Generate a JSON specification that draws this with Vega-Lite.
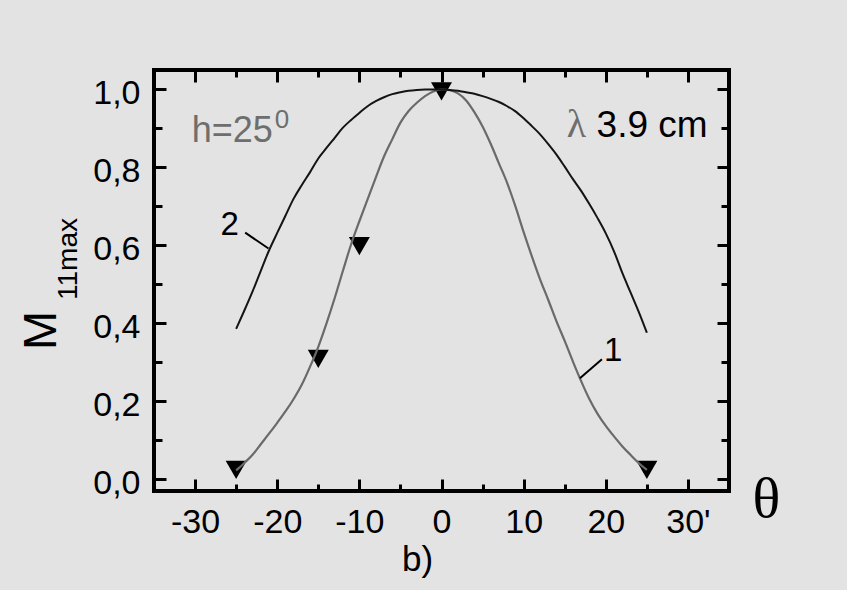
{
  "$schema": "https://vega.github.io/schema/vega-lite/v6.json",
  "width": 575,
  "height": 421,
  "autosize": "none",
  "padding": {"left": 154, "top": 70, "right": 118, "bottom": 99},
  "background": "#e3e3e3",
  "config": {
    "view": {"stroke": "#000000", "strokeWidth": 4},
    "axis": {
      "domain": false,
      "grid": false,
      "tickColor": "#000000",
      "tickWidth": 3,
      "labelFont": "Liberation Sans",
      "labelFontSize": 34,
      "labelColor": "#000000",
      "titleColor": "#000000",
      "titleFontWeight": "normal"
    },
    "text": {"font": "Liberation Sans"}
  },
  "title": {
    "text": "b)",
    "orient": "bottom",
    "font": "Liberation Sans",
    "fontSize": 35,
    "fontWeight": "normal",
    "color": "#000000",
    "anchor": "middle",
    "dx": -24
  },
  "datasets": {
    "curve1": [
      {"theta": -25, "m": 0.023}, {"theta": -24, "m": 0.042}, {"theta": -23, "m": 0.063},
      {"theta": -22, "m": 0.09}, {"theta": -21, "m": 0.117}, {"theta": -20, "m": 0.145},
      {"theta": -19, "m": 0.174}, {"theta": -18, "m": 0.206}, {"theta": -17, "m": 0.243},
      {"theta": -16, "m": 0.289}, {"theta": -15, "m": 0.34}, {"theta": -14, "m": 0.4},
      {"theta": -13, "m": 0.465}, {"theta": -12, "m": 0.535}, {"theta": -11, "m": 0.603},
      {"theta": -10, "m": 0.662}, {"theta": -9, "m": 0.718}, {"theta": -8, "m": 0.774},
      {"theta": -7, "m": 0.828}, {"theta": -6, "m": 0.872}, {"theta": -5, "m": 0.915},
      {"theta": -4, "m": 0.945}, {"theta": -3, "m": 0.966}, {"theta": -2, "m": 0.983},
      {"theta": -1, "m": 0.995}, {"theta": 0, "m": 1.0}, {"theta": 1, "m": 0.998},
      {"theta": 2, "m": 0.99}, {"theta": 3, "m": 0.972}, {"theta": 4, "m": 0.942},
      {"theta": 5, "m": 0.905}, {"theta": 6, "m": 0.86}, {"theta": 7, "m": 0.81},
      {"theta": 8, "m": 0.76}, {"theta": 9, "m": 0.7}, {"theta": 10, "m": 0.634},
      {"theta": 11, "m": 0.572}, {"theta": 12, "m": 0.513}, {"theta": 13, "m": 0.46},
      {"theta": 14, "m": 0.405}, {"theta": 15, "m": 0.355}, {"theta": 16, "m": 0.302},
      {"theta": 17, "m": 0.252}, {"theta": 18, "m": 0.206}, {"theta": 19, "m": 0.168},
      {"theta": 20, "m": 0.137}, {"theta": 21, "m": 0.11}, {"theta": 22, "m": 0.085},
      {"theta": 23, "m": 0.063}, {"theta": 24, "m": 0.042}, {"theta": 25, "m": 0.024}
    ],
    "curve2": [
      {"theta": -25, "m": 0.386}, {"theta": -24, "m": 0.433}, {"theta": -23, "m": 0.482},
      {"theta": -22, "m": 0.535}, {"theta": -21, "m": 0.587}, {"theta": -20, "m": 0.632},
      {"theta": -19, "m": 0.676}, {"theta": -18, "m": 0.72}, {"theta": -17, "m": 0.755},
      {"theta": -16, "m": 0.788}, {"theta": -15, "m": 0.823}, {"theta": -14, "m": 0.85},
      {"theta": -13, "m": 0.876}, {"theta": -12, "m": 0.902}, {"theta": -11, "m": 0.922},
      {"theta": -10, "m": 0.94}, {"theta": -9, "m": 0.957}, {"theta": -8, "m": 0.97},
      {"theta": -7, "m": 0.98}, {"theta": -6, "m": 0.988}, {"theta": -5, "m": 0.993},
      {"theta": -4, "m": 0.997}, {"theta": -3, "m": 0.999}, {"theta": -2, "m": 1.0},
      {"theta": -1, "m": 1.0}, {"theta": 0, "m": 1.0}, {"theta": 1, "m": 0.999},
      {"theta": 2, "m": 0.997}, {"theta": 3, "m": 0.993}, {"theta": 4, "m": 0.989},
      {"theta": 5, "m": 0.983}, {"theta": 6, "m": 0.976}, {"theta": 7, "m": 0.968},
      {"theta": 8, "m": 0.957}, {"theta": 9, "m": 0.944}, {"theta": 10, "m": 0.926},
      {"theta": 11, "m": 0.906}, {"theta": 12, "m": 0.885}, {"theta": 13, "m": 0.86},
      {"theta": 14, "m": 0.833}, {"theta": 15, "m": 0.802}, {"theta": 16, "m": 0.77},
      {"theta": 17, "m": 0.74}, {"theta": 18, "m": 0.706}, {"theta": 19, "m": 0.67},
      {"theta": 20, "m": 0.631}, {"theta": 21, "m": 0.585}, {"theta": 22, "m": 0.53},
      {"theta": 23, "m": 0.48}, {"theta": 24, "m": 0.43}, {"theta": 25, "m": 0.376}
    ],
    "measured": [
      {"theta": -25, "m": 0.024}, {"theta": -15, "m": 0.309}, {"theta": -10, "m": 0.598},
      {"theta": 0, "m": 0.995}, {"theta": 25, "m": 0.024}
    ],
    "leaders": [
      {"curve": "2", "x1": -23.9, "y1": 0.633, "x2": -21.06, "y2": 0.592},
      {"curve": "1", "x1": 19.53, "y1": 0.308, "x2": 16.85, "y2": 0.259}
    ],
    "curveLabels": [
      {"text": "2", "theta": -25.8, "m": 0.627},
      {"text": "1", "theta": 20.9, "m": 0.303}
    ],
    "grayNotes": [
      {"text": "h=25", "theta": -30.4, "m": 0.866}
    ],
    "supNotes": [
      {"text": "0", "theta": -20.3, "m": 0.901}
    ],
    "lambdaNotes": [
      {"text": "λ", "theta": 17.6, "m": 0.879}
    ],
    "blackNotes": [
      {"text": "3.9 cm", "theta": 32.4, "m": 0.879}
    ],
    "subNotes": [
      {"text": "11max", "theta": -44.35, "m": 0.46}
    ]
  },
  "layer": [
    {
      "data": {"name": "measured"},
      "mark": {"type": "point", "shape": "triangle-down", "filled": true, "size": 440, "color": "#000000", "opacity": 1},
      "encoding": {
        "x": {
          "field": "theta", "type": "quantitative",
          "scale": {"domain": [-35, 35], "nice": false, "zero": false},
          "axis": {
            "orient": "bottom",
            "values": [-30, -25, -20, -15, -10, -5, 0, 5, 10, 15, 20, 25, 30],
            "tickSize": {"condition": {"test": "datum.value % 10 === 0", "value": -12}, "value": -7},
            "labelPadding": 26,
            "labelExpr": "datum.value % 10 === 0 ? (datum.value === 30 ? \"30'\" : datum.value + '') : ''",
            "title": "θ",
            "titleFont": "Liberation Serif",
            "titleFontSize": 58,
            "titleX": 612,
            "titleY": 25,
            "titleAlign": "center",
            "titleBaseline": "alphabetic"
          }
        },
        "y": {
          "field": "m", "type": "quantitative",
          "scale": {"domain": [-0.03, 1.05], "nice": false, "zero": false},
          "axis": {
            "orient": "left",
            "values": [0, 0.1, 0.2, 0.3, 0.4, 0.5, 0.6, 0.7, 0.8, 0.9, 1.0],
            "tickSize": {"condition": {"test": "round(datum.value * 10) % 2 === 0", "value": -12}, "value": -8},
            "labelPadding": 26,
            "labelOffset": 4,
            "labelExpr": "round(datum.value * 10) % 2 === 0 ? replace(format(datum.value, '.1f'), '.', ',') : ''",
            "title": "M",
            "titleFont": "Liberation Sans",
            "titleFontSize": 47,
            "titleAngle": 270,
            "titleX": -99,
            "titleY": 260,
            "titleAlign": "center",
            "titleBaseline": "alphabetic"
          }
        }
      }
    },
    {
      "data": {"name": "curve1"},
      "mark": {"type": "line", "color": "#6a6a6a", "strokeWidth": 2.2, "interpolate": "monotone"},
      "encoding": {
        "x": {
          "field": "theta", "type": "quantitative",
          "scale": {"domain": [-35, 35], "nice": false, "zero": false},
          "axis": {
            "orient": "top",
            "values": [-30, -25, -20, -15, -10, -5, 0, 5, 10, 15, 20, 25, 30],
            "tickSize": {"condition": {"test": "datum.value % 10 === 0", "value": -12}, "value": -7},
            "labels": false,
            "title": null
          }
        },
        "y": {
          "field": "m", "type": "quantitative",
          "scale": {"domain": [-0.03, 1.05], "nice": false, "zero": false},
          "axis": {
            "orient": "right",
            "values": [0, 0.1, 0.2, 0.3, 0.4, 0.5, 0.6, 0.7, 0.8, 0.9, 1.0],
            "tickSize": {"condition": {"test": "round(datum.value * 10) % 2 === 0", "value": -12}, "value": -8},
            "labels": false,
            "title": null
          }
        }
      }
    },
    {
      "data": {"name": "curve2"},
      "mark": {"type": "line", "color": "#141414", "strokeWidth": 2, "interpolate": "monotone"},
      "encoding": {
        "x": {"field": "theta", "type": "quantitative", "scale": {"domain": [-35, 35], "nice": false, "zero": false}, "axis": null},
        "y": {"field": "m", "type": "quantitative", "scale": {"domain": [-0.03, 1.05], "nice": false, "zero": false}, "axis": null}
      }
    },
    {
      "data": {"name": "leaders"},
      "mark": {"type": "rule", "color": "#000000", "strokeWidth": 2},
      "encoding": {
        "x": {"field": "x1", "type": "quantitative", "scale": {"domain": [-35, 35], "nice": false, "zero": false}, "axis": null},
        "x2": {"field": "x2"},
        "y": {"field": "y1", "type": "quantitative", "scale": {"domain": [-0.03, 1.05], "nice": false, "zero": false}, "axis": null},
        "y2": {"field": "y2"}
      }
    },
    {
      "data": {"name": "curveLabels"},
      "mark": {"type": "text", "fontSize": 33, "color": "#000000", "align": "center", "baseline": "alphabetic"},
      "encoding": {
        "x": {"field": "theta", "type": "quantitative", "scale": {"domain": [-35, 35], "nice": false, "zero": false}, "axis": null},
        "y": {"field": "m", "type": "quantitative", "scale": {"domain": [-0.03, 1.05], "nice": false, "zero": false}, "axis": null},
        "text": {"field": "text"}
      }
    },
    {
      "data": {"name": "grayNotes"},
      "mark": {"type": "text", "fontSize": 36, "color": "#6e6e6e", "align": "left", "baseline": "alphabetic"},
      "encoding": {
        "x": {"field": "theta", "type": "quantitative", "scale": {"domain": [-35, 35], "nice": false, "zero": false}, "axis": null},
        "y": {"field": "m", "type": "quantitative", "scale": {"domain": [-0.03, 1.05], "nice": false, "zero": false}, "axis": null},
        "text": {"field": "text"}
      }
    },
    {
      "data": {"name": "supNotes"},
      "mark": {"type": "text", "fontSize": 26, "color": "#6e6e6e", "align": "left", "baseline": "alphabetic"},
      "encoding": {
        "x": {"field": "theta", "type": "quantitative", "scale": {"domain": [-35, 35], "nice": false, "zero": false}, "axis": null},
        "y": {"field": "m", "type": "quantitative", "scale": {"domain": [-0.03, 1.05], "nice": false, "zero": false}, "axis": null},
        "text": {"field": "text"}
      }
    },
    {
      "data": {"name": "lambdaNotes"},
      "mark": {"type": "text", "font": "Liberation Serif", "fontSize": 40, "color": "#6e6e6e", "align": "right", "baseline": "alphabetic"},
      "encoding": {
        "x": {"field": "theta", "type": "quantitative", "scale": {"domain": [-35, 35], "nice": false, "zero": false}, "axis": null},
        "y": {"field": "m", "type": "quantitative", "scale": {"domain": [-0.03, 1.05], "nice": false, "zero": false}, "axis": null},
        "text": {"field": "text"}
      }
    },
    {
      "data": {"name": "blackNotes"},
      "mark": {"type": "text", "fontSize": 37, "color": "#000000", "align": "right", "baseline": "alphabetic"},
      "encoding": {
        "x": {"field": "theta", "type": "quantitative", "scale": {"domain": [-35, 35], "nice": false, "zero": false}, "axis": null},
        "y": {"field": "m", "type": "quantitative", "scale": {"domain": [-0.03, 1.05], "nice": false, "zero": false}, "axis": null},
        "text": {"field": "text"}
      }
    },
    {
      "data": {"name": "subNotes"},
      "mark": {"type": "text", "fontSize": 28, "color": "#000000", "align": "left", "baseline": "alphabetic", "angle": 270},
      "encoding": {
        "x": {"field": "theta", "type": "quantitative", "scale": {"domain": [-35, 35], "nice": false, "zero": false}, "axis": null},
        "y": {"field": "m", "type": "quantitative", "scale": {"domain": [-0.03, 1.05], "nice": false, "zero": false}, "axis": null},
        "text": {"field": "text"}
      }
    }
  ],
  "resolve": {"axis": {"x": "independent", "y": "independent"}}
}
